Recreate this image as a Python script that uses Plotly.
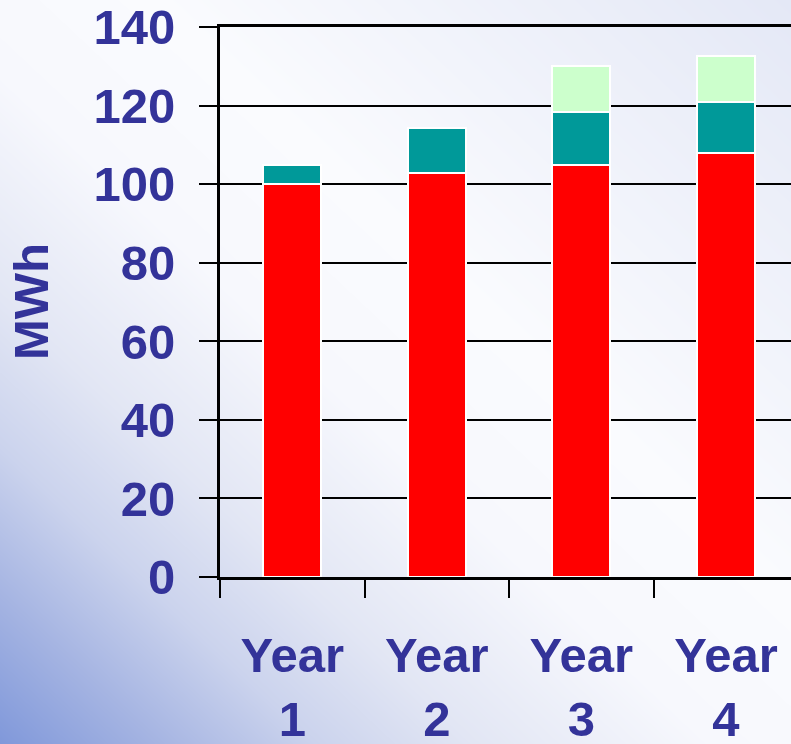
import plotly.graph_objects as go

# ---- data ----
years = ["Year<br>1", "Year<br>2", "Year<br>3", "Year<br>4"]
base_mwh = [100, 103, 105, 108]
mid_mwh = [5, 11.3, 13.3, 13]
top_mwh = [None, None, 11.7, 11.7]
y_ticks = [0, 20, 40, 60, 80, 100, 120, 140]

W, H = 791, 744
TXT = "#333399"
FONT = "Liberation Sans, Arial, sans-serif"

fig = go.Figure()

# background gradient (decoration) on full-paper axes
fig.add_trace(go.Heatmap(
    x=[0, 1], y=[0, 1], z=[[0, 0.5], [0.5, 1]],
    zsmooth="best", showscale=False, hoverinfo="skip",
    zmin=0, zmax=1,
    colorscale=[
        [0.0, "rgb(128,152,218)"],
        [0.1, "rgb(165,180,226)"],
        [0.2, "rgb(203,211,237)"],
        [0.3, "rgb(226,230,244)"],
        [0.45, "rgb(247,248,253)"],
        [0.6, "rgb(250,251,254)"],
        [1.0, "rgb(228,232,246)"],
    ],
    xaxis="x", yaxis="y",
))

bar_line = dict(color="white", width=2)
fig.add_trace(go.Bar(x=years, y=base_mwh, marker=dict(color="#FF0000", line=bar_line),
                     xaxis="x2", yaxis="y2", name="A"))
fig.add_trace(go.Bar(x=years, y=mid_mwh, marker=dict(color="#009999", line=bar_line),
                     xaxis="x2", yaxis="y2", name="B"))
fig.add_trace(go.Bar(x=years, y=top_mwh, marker=dict(color="#CCFFCC", line=bar_line),
                     xaxis="x2", yaxis="y2", name="C"))

x0 = 220 / W
y_bot = (H - 577) / H
y_top = (H - 27.2) / H

fig.update_layout(
    width=W, height=H,
    margin=dict(l=0, r=0, t=0, b=0, autoexpand=False),
    paper_bgcolor="white",
    plot_bgcolor="rgba(0,0,0,0)",
    showlegend=False,
    barmode="stack",
    bargap=0.6,
    xaxis=dict(domain=[0, 1], range=[0, 1], visible=False, fixedrange=True, automargin=False),
    yaxis=dict(domain=[0, 1], range=[0, 1], visible=False, fixedrange=True, automargin=False),
    xaxis2=dict(
        domain=[x0, 1], anchor="y2", type="category",
        range=[-0.5, 3.45], automargin=False,
        tickson="boundaries", ticks="outside", ticklen=18, tickwidth=2, tickcolor="black",
        showline=True, linecolor="black", linewidth=3, mirror=True,
        showgrid=False, zeroline=False,
        tickfont=dict(family=FONT, size=49, color=TXT, weight="bold"),
        ticklabelstandoff=33,
    ),
    yaxis2=dict(
        domain=[y_bot, y_top], anchor="x2",
        range=[0, 140], tickvals=y_ticks, automargin=False,
        ticks="outside", ticklen=18, tickwidth=2, tickcolor="black",
        showline=True, linecolor="black", linewidth=3,
        showgrid=True, gridcolor="black", gridwidth=2,
        zeroline=False,
        tickfont=dict(family=FONT, size=49, color=TXT, weight="bold"),
        ticklabelstandoff=14,
    ),
    annotations=[dict(
        text="MWh", x=31 / W, y=(H - 302) / H, xref="paper", yref="paper",
        showarrow=False, textangle=-90, xanchor="center", yanchor="middle",
        font=dict(family=FONT, size=49, color=TXT, weight="bold"),
    )],
)

fig.write_html("out.html")
